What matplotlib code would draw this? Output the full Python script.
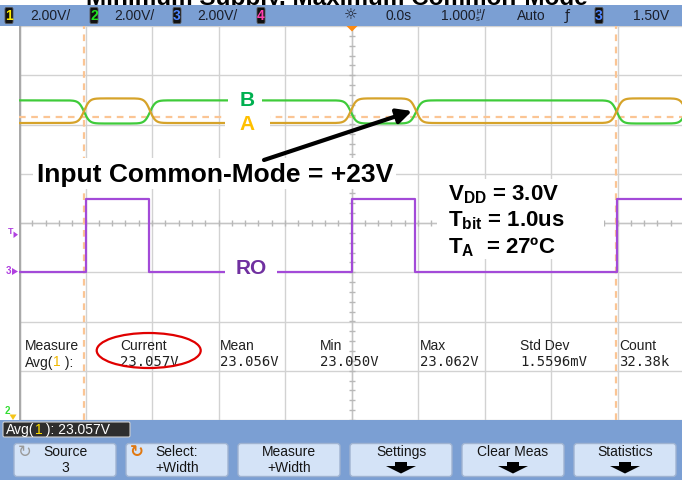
import matplotlib
matplotlib.use('Agg')
import matplotlib.pyplot as plt
import numpy as np
from matplotlib.patches import Rectangle, FancyBboxPatch, Ellipse, Polygon, FancyArrowPatch

plt.rcParams['font.family'] = ['Liberation Sans', 'DejaVu Sans']
plt.rcParams['mathtext.fontset'] = 'custom'
plt.rcParams['mathtext.bf'] = 'Liberation Sans:bold'
plt.rcParams['mathtext.rm'] = 'Liberation Sans'

# ---------------- data (screen divisions; 1.000 us/div, 2.00 V/div) ----------------
time_divs = (-5.0, 5.0)
volt_divs = (-4.0, 4.0)
grid_x = [-5, -4, -3, -2, -1, 0, 1, 2, 3, 4, 5]
grid_y = [-4, -3, -2, -1, 0, 1, 2, 3, 4]
ab_crossings = [-4.02, -3.03, -0.01, 0.97, 3.99, 5.03]   # A rises first
a_levels = (2.03, 2.53)      # (low, high) channel 1 "A"
b_levels = (2.02, 2.49)      # (low, high) channel 2 "B"
edge_tau = 0.08              # differential edge softness (div)
ro_edges = [-3.99, -3.04, 0.0, 0.955, 3.99]              # RO rises first
ro_levels = (-0.99, 0.49)    # (low, high) channel 3 "RO"
cursor_x = [-4.02, 3.98]
cursor_y = [2.15]
ch_scales = ['2.00V/', '2.00V/', '2.00V/']
timebase = '1.000'
delay = '0.0s'
trig_mode = 'Auto'
trig_level = '1.50V'
meas_headers = ['Measure', 'Current', 'Mean', 'Min', 'Max', 'Std Dev', 'Count']
meas_values = ['23.057V', '23.056V', '23.050V', '23.062V', '1.5596mV', '32.38k']
buttons = [('Source', '3'), ('Select:', '+Width'), ('Measure', '+Width'),
           ('Settings', None), ('Clear Meas', None), ('Statistics', None)]

W, H = 682, 480
fig = plt.figure(figsize=(W / 100, H / 100), dpi=100)
fig.patch.set_facecolor('white')

# ---------------- scope graticule axes ----------------
ax = fig.add_axes([19 / W, (H - 420) / H, 665 / W, 394 / H])
ax.set_xlim(*time_divs)
ax.set_ylim(*volt_divs)
ax.set_facecolor('white')
for s in ax.spines.values():
    s.set_visible(False)
ax.set_xticks([]); ax.set_yticks([])

for gx in grid_x:
    ax.axvline(gx, color='#d2d2d2', lw=1.0, zorder=1)
for gy in grid_y:
    ax.axhline(gy, color='#d2d2d2', lw=1.0, zorder=1)
ax.axvline(time_divs[0], color='#a9a9a9', lw=2.5, zorder=2)
ax.axvline(0, color='#c4c4c4', lw=1.0, zorder=1)
ax.axhline(0, color='#c4c4c4', lw=1.0, zorder=1)
minor_x = np.arange(-5, 5.001, 0.2)
minor_y = np.arange(-4, 4.001, 0.2)
ax.plot(minor_x, np.zeros_like(minor_x), ls='none', marker='|', ms=4, color='#b8b8b8', mew=1, zorder=1)
ax.plot(np.zeros_like(minor_y), minor_y, ls='none', marker='_', ms=4, color='#b8b8b8', mew=1, zorder=1)

for cx in cursor_x:
    ax.axvline(cx, color='#fbc594', lw=1.6, ls=(0, (3, 2.5)), zorder=2)
for cy in cursor_y:
    ax.axhline(cy, color='#fbc594', lw=1.6, ls=(0, (3, 2.5)), zorder=2)

# differential A/B traces
t = np.linspace(time_divs[0], time_divs[1], 5000)
state = np.zeros_like(t)
for i, e in enumerate(ab_crossings):
    sgn = 1 if i % 2 == 0 else -1
    state += sgn * 0.5 * (1 + np.tanh((t - e) / edge_tau))
a_trace = a_levels[0] + (a_levels[1] - a_levels[0]) * state
b_trace = b_levels[0] + (b_levels[1] - b_levels[0]) * (1 - state)
ax.plot(t, b_trace, color='#3fcb3a', lw=1.6, zorder=4)
ax.plot(t, a_trace, color='#d6a32a', lw=1.6, zorder=5)

# RO trace (steps)
rx = [time_divs[0]]
ry = [ro_levels[0]]
lvl = 0
for e in ro_edges:
    rx += [e, e]
    ry += [ro_levels[lvl], ro_levels[1 - lvl]]
    lvl = 1 - lvl
rx.append(time_divs[1]); ry.append(ro_levels[lvl])
ax.plot(rx, ry, color='#a34ad8', lw=1.6, zorder=5)

# ---------------- UI overlay in pixel coordinates ----------------
ui = fig.add_axes([0, 0, 1, 1], zorder=10)
ui.set_xlim(0, W); ui.set_ylim(H, 0)
ui.axis('off')
ui.patch.set_alpha(0)
R = fig.canvas.get_renderer()

def seq_text(x, y, parts, **kw):
    for s, c in parts:
        tt = ui.text(x, y, s, color=c, **kw)
        x += tt.get_window_extent(renderer=R).width
    return x

# title (cropped at top) + header bar
ui.text(337, 5.5, 'Minimum Supply, Maximum Common-Mode', ha='center', va='baseline',
        fontsize=17.5, fontweight='bold', color='black', zorder=1)
ui.add_patch(Rectangle((0, 5), W, 21, fc='#7b9fd3', ec='none', zorder=2))

def chan_box(x, digit, col):
    ui.add_patch(FancyBboxPatch((x, 7.5), 8, 16, boxstyle='round,pad=0,rounding_size=1.5',
                                fc='#111111', ec='#555555', lw=0.6, zorder=3))
    ui.text(x + 4, 16, digit, ha='center', va='center', fontsize=10, fontweight='bold',
            color=col, zorder=4)

chan_box(5, '1', '#ffee00')
chan_box(90, '2', '#22e022')
chan_box(173, '3', '#4f86ff')
chan_box(257, '4', '#ff3fae')
chan_box(595, '3', '#4f86ff')
hdr = dict(va='center', fontsize=10, color='#1b1f2a', zorder=4)
for xx, s in zip([30, 114, 197], ch_scales):
    ui.text(xx, 16, s, ha='left', **hdr)
ui.text(351, 15, '☼', ha='center', va='center', fontsize=11, color='#1b1f2a',
        family='DejaVu Sans', zorder=4)
ui.text(386, 16, delay, ha='left', **hdr)
tx = seq_text(441, 16, [(timebase, '#1b1f2a')], ha='left', va='center', fontsize=10, zorder=4)
ui.text(tx + 0.5, 11.5, 'µ', ha='left', va='center', fontsize=5.5, color='#1b1f2a', zorder=4)
ui.text(tx + 0.5, 19.5, 's', ha='left', va='center', fontsize=5.5, color='#1b1f2a', zorder=4)
ui.text(tx + 5, 16, '/', ha='left', **hdr)
ui.text(517, 16, trig_mode, ha='left', **hdr)
ui.text(567, 16, 'ƒ', ha='center', va='center', fontsize=10, color='#1b1f2a',
        family='DejaVu Sans', zorder=4)
ui.text(633, 16, trig_level, ha='left', **hdr)
ui.add_patch(Polygon([[346.5, 26], [357.5, 26], [352, 31.5]], closed=True,
                     fc='#ff8a10', ec='none', zorder=4))

# left-side reference markers
ui.text(10.5, 231, 'T', ha='center', va='center', fontsize=6.5, fontweight='bold', color='#b040e0')
ui.add_patch(Polygon([[13.5, 231.5], [13.5, 238], [18, 234.7]], closed=True, fc='#b040e0', ec='none'))
ui.text(8, 271.5, '3', ha='center', va='center', fontsize=7, fontweight='bold', color='#b040e0')
ui.add_patch(Polygon([[12, 268], [12, 275], [18, 271.5]], closed=True, fc='#b040e0', ec='none'))
ui.text(7, 411, '2', ha='center', va='center', fontsize=7, fontweight='bold', color='#33dd33')
ui.add_patch(Polygon([[9.5, 414.5], [16.5, 414.5], [13, 420]], closed=True, fc='#f5c518', ec='none'))

# white label boxes + labels
ui.add_patch(Rectangle((33, 158), 363, 31, fc='white', ec='none', zorder=1))
ui.text(37, 182, 'Input Common-Mode = +23V', ha='left', va='baseline', fontsize=19,
        fontweight='bold', color='black', zorder=2)
ui.add_patch(Rectangle((437, 179), 167, 80, fc='white', ec='none', zorder=1))
ui.text(448, 200, r'$\mathbf{V_{DD}}$ = 3.0V', ha='left', va='baseline', fontsize=16,
        fontweight='bold', color='black', zorder=2)
ui.text(448, 226.5, r'$\mathbf{T_{bit}}$ = 1.0us', ha='left', va='baseline', fontsize=16,
        fontweight='bold', color='black', zorder=2)
ui.text(448, 253, r'$\mathbf{T_{A}}$  = 27ºC', ha='left', va='baseline', fontsize=16,
        fontweight='bold', color='black', zorder=2)

ui.add_patch(Rectangle((228, 90), 34, 20, fc='white', ec='none', zorder=1))
ui.add_patch(Rectangle((225, 114), 45, 20, fc='white', ec='none', zorder=1))
ui.text(247, 100, 'B', ha='center', va='center', fontsize=15, fontweight='bold',
        color='#00b050', zorder=2)
ui.text(247, 125, 'A', ha='center', va='center', fontsize=15, fontweight='bold',
        color='#ffc000', zorder=2)
ui.add_patch(Rectangle((225, 258), 52, 22, fc='white', ec='none', zorder=1))
ui.text(251, 268, 'RO', ha='center', va='center', fontsize=15, fontweight='bold',
        color='#7030a0', zorder=2)

ui.add_patch(FancyArrowPatch((264, 160), (412, 111), arrowstyle='-|>', mutation_scale=22,
                             lw=3, color='black', zorder=3, shrinkA=0, shrinkB=0))

# measurement table
col_x = [25, 120, 220, 320, 420, 520, 619]
for xx, s in zip(col_x, meas_headers):
    ui.text(xx, 350.5, s, ha='left', va='baseline', fontsize=10, color='#202020', zorder=2)
seq_text(25, 366.5, [('Avg(', '#202020'), ('1', '#f0b800'), (' ):', '#202020')],
         ha='left', va='baseline', fontsize=10, zorder=2)
for xx, s in zip(col_x[1:], meas_values):
    ui.text(xx, 366.5, s, ha='left', va='baseline', fontsize=10, color='#202020',
            family='DejaVu Sans Mono', zorder=2)
ui.add_patch(Ellipse((148.7, 350.5), 104, 35, fc='none', ec='#e00000', lw=1.6, zorder=3))

# bottom soft-key panel
ui.add_patch(Rectangle((0, 420), W, 60, fc='#7b9fd3', ec='none', zorder=1))
ui.add_patch(FancyBboxPatch((3, 422), 127, 15, boxstyle='round,pad=0,rounding_size=1.5',
                            fc='#2e2e2e', ec='#cfcfcf', lw=0.8, zorder=2))
seq_text(6, 430, [('Avg(', 'white'), ('1', '#ffe000'), (' ): 23.057V', 'white')],
         ha='left', va='center', fontsize=10, zorder=3)

bx0, bstep, bw = 14, 112, 102
for i, (l1, l2) in enumerate(buttons):
    x0 = bx0 + i * bstep
    cx = x0 + bw / 2
    ui.add_patch(FancyBboxPatch((x0, 443.5), bw, 33, boxstyle='round,pad=0,rounding_size=3',
                                fc='#d4e3f7', ec='#9fb3d1', lw=1.0, zorder=2))
    ui.text(cx, 452, l1, ha='center', va='center', fontsize=10, color='#151515', zorder=3)
    if l2 is not None:
        ui.text(cx, 467.5, l2, ha='center', va='center', fontsize=10, color='#151515', zorder=3)
    else:
        ui.add_patch(Polygon([[cx - 6, 462], [cx + 6, 462], [cx + 6, 466], [cx + 15, 466],
                              [cx, 473.5], [cx - 15, 466], [cx - 6, 466]], closed=True,
                             fc='black', ec='none', zorder=3))
ui.text(24.5, 452, '↻', ha='center', va='center', fontsize=12, color='#9a9a9a',
        family='DejaVu Sans', zorder=3)
ui.text(136.5, 452, '↻', ha='center', va='center', fontsize=12, fontweight='bold',
        color='#e07810', family='DejaVu Sans', zorder=3)

fig.savefig('out.png', dpi=100)
